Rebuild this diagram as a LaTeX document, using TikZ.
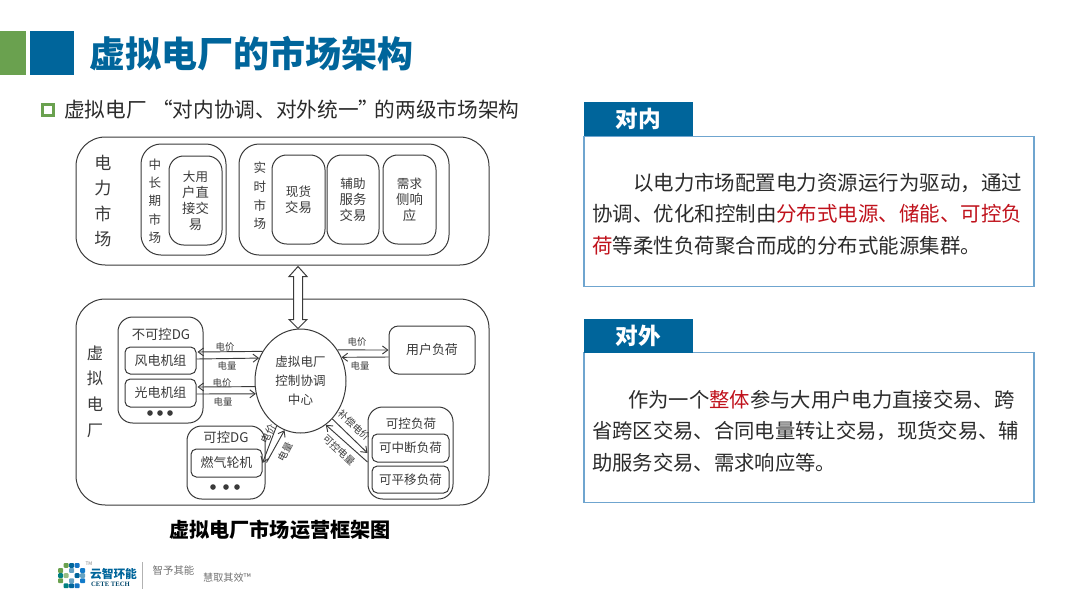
\documentclass[tikz,border=0pt]{standalone}
\usepackage{fontspec}
\setmainfont{Noto Sans CJK SC}
\newfontfamily\logoserif{Liberation Serif}
\usetikzlibrary{arrows.meta,calc,shapes.geometric}
\definecolor{cetblue}{HTML}{00659B}
\definecolor{cetgreen}{HTML}{6AA14F}
\definecolor{panelline}{HTML}{6FA5CF}
\definecolor{hotred}{HTML}{C0121C}
\definecolor{ink}{HTML}{2B2B2B}
\definecolor{diag}{HTML}{3A3A3A}
\newcommand{\fpt}[2]{\fontsize{#1}{#2}\selectfont}
\newcommand{\hot}[1]{\textcolor{hotred}{#1}}
% \bx[style]{name}{x1}{y1}{x2}{y2}{text}
\newcommand{\bx}[7][]{\node[rbox,#1,minimum width={(#5-#3)*0.75pt},minimum height={(#6-#4)*0.75pt}] (#2) at ({(#3+#5)/2},{(#4+#6)/2}) {#7};}
\tikzset{
  rbox/.style={draw=diag,line width=0.75pt,rounded corners=11pt,inner sep=0pt,align=center,text=diag},
  lbl/.style={inner sep=0pt,align=center,text=diag},
  flow/.style={draw=diag,line width=0.7pt,-{Straight Barb[length=4pt,width=6pt]}},
  small/.style={lbl,font=\fpt{7}{8}},
  slant/.style={lbl,font=\fpt{7.4}{9}},
  head/.style={fill=cetblue,text=white,font=\fpt{17}{20}\bfseries,inner sep=0pt,minimum width=81.75pt,minimum height=25.5pt},
  panel/.style={draw=panelline,line width=0.8pt,inner sep=0pt,minimum width=337.5pt,minimum height=112.5pt},
  ptext/.style={inner sep=0pt,align=left,anchor=west,text=ink,font=\fpt{15.25}{23.5}},
  blob/.style={circle,fill=diag,inner sep=0pt,minimum size=4.2pt}
}
\begin{document}
\begin{tikzpicture}[x=0.75pt,y=-0.75pt]
\useasboundingbox (0,0) rectangle (1080,608);
\fill[white] (0,0) rectangle (1080,608);
% title band
\node[fill=cetgreen,inner sep=0pt,minimum width=19.5pt,minimum height=33pt] (bandg) at (13,53) {};
\node[fill=cetblue,inner sep=0pt,minimum width=33pt,minimum height=33pt] (bandb) at (52,53) {};
\node[inner sep=0pt,text=cetblue,font=\fpt{27}{30}\bfseries] (title) at (251.5,54) {虚拟电厂的市场架构};
\node[draw=cetgreen,line width=2.2pt,inner sep=0pt,minimum size=8pt] (bullet) at (48,110) {};
\node[inner sep=0pt,anchor=west,text=ink,font=\fpt{15.5}{18}] (sub) at (64,110) {虚拟电厂\hspace{4pt}“对内协调、对外统一”\hspace{-3.5pt}的两级市场架构};
% market block
\bx[rounded corners=22pt]{market}{76}{137}{489}{265}{}
\bx[rounded corners=15pt]{midterm}{141}{144}{226}{255}{}
\bx{bigdirect}{169}{156}{222}{245}{\fpt{9.4}{13.7}大用\\户直\\接交\\易}
\bx[rounded corners=15pt]{realtime}{239}{144}{449}{255}{}
\bx{spot}{272}{155}{325}{244}{\fpt{9.4}{15}现货\\交易}
\bx{aux}{327}{155}{379}{244}{\fpt{9.4}{13.7}辅助\\服务\\交易}
\bx{demand}{383}{155}{436}{244}{\fpt{9.4}{14}需求\\侧响\\应}
\node[lbl,font=\fpt{12.8}{19.2}] (marketlab) at (103,201) {电\\力\\市\\场};
\node[lbl,font=\fpt{9.4}{13.7}] (midlab) at (155,201) {中\\长\\期\\市\\场};
\node[lbl,font=\fpt{9.4}{14}] (rtlab) at (260,196) {实\\时\\市\\场};
% virtual plant block
\bx[rounded corners=22pt]{vpp}{76}{299}{489}{505}{}
\node[lbl,font=\fpt{12.2}{19.2}] (vpplab) at (95,391.5) {虚\\拟\\电\\厂};
\bx{undg}{118}{317}{203}{423}{}
\node[lbl,font=\fpt{10}{12}] (undglab) at (161,334) {不可控DG};
\bx[rounded corners=4pt]{wind}{125}{347}{196}{374}{\fpt{9.7}{12}风电机组}
\bx[rounded corners=4pt]{solar}{125}{379}{196}{407}{\fpt{9.7}{12}光电机组}
\foreach \i/\x in {1/150,2/160,3/170}{\node[blob] (ud\i) at (\x,413) {};}
\bx{ctdg}{187}{426}{265}{499}{}
\node[lbl,font=\fpt{10}{12}] (ctdglab) at (226,437) {可控DG};
\bx[rounded corners=4pt]{gas}{191}{449}{262}{477}{\fpt{9.7}{12}燃气轮机}
\foreach \i/\x in {1/213,2/226,3/237}{\node[blob] (cd\i) at (\x,487) {};}
\node[ellipse,draw=diag,line width=0.75pt,inner sep=0pt,minimum width=68.25pt,minimum height=78pt,text=diag,align=center,font=\fpt{9.4}{14.2}] (vppc) at (300.5,381) {虚拟电厂\\控制协调\\中心};
\bx[rounded corners=7pt]{user}{389}{326}{475}{374}{\fpt{9.7}{12}用户负荷}
\bx{flex}{368}{407}{453}{499}{}
\node[lbl,font=\fpt{9.4}{12}] (flexlab) at (411,424) {可控负荷};
\bx[rounded corners=4pt]{inter}{372}{434}{449}{462}{\fpt{9.4}{12}可中断负荷}
\bx[rounded corners=4pt]{shift}{372}{466}{449}{493}{\fpt{9.4}{12}可平移负荷}
% big double arrow between the blocks
\coordinate (dau) at (market.south -| vppc.north);
\coordinate (dad) at (vppc.north);
\draw[draw=diag,line width=0.75pt,fill=white]
  ($(dau)+(-2.5,1)$) -- ($(dau)+(6.5,11)$) -- ($(dau)+(2,11)$) -- ($(dad)+(2,-9)$) -- ($(dad)+(6.5,-9)$)
  -- ($(dad)+(-2.5,0)$) -- ($(dad)+(-11.5,-9)$) -- ($(dad)+(-7,-9)$) -- ($(dau)+(-7,11)$) -- ($(dau)+(-11.5,11)$) -- cycle;
% flows
\draw[flow] (vppc.142.5) -- ($(wind.east)+(1,-8.5)$);
\draw[flow] ($(wind.east)+(0,-1.5)$) -- (vppc.151.9);
\draw[flow] (vppc.187.6) -- ($(solar.east)+(1,-6)$);
\draw[flow] ($(solar.east)+(0,1)$) -- (vppc.196.5);
\draw[flow] (vppc.40.3) -- (user.west);
\draw[flow] ($(user.west)+(0,7)$) -- (vppc.30.7);
\draw[flow] (vppc.242.2) -- (gas.east);
\draw[flow] ($(ctdg.east)+(1,0)$) -- (vppc.252.6);
\draw[flow] (vppc.310) -- (flex.west);
\draw[flow] ($(flex.west)+(0,9)$) -- (vppc.300.7);
\node[small] (l1) at (225,347) {电价};
\node[small] (l2) at (227,366) {电量};
\node[small] (l3) at (222,383) {电价};
\node[small] (l4) at (223,402) {电量};
\node[small] (l5) at (357,342) {电价};
\node[small] (l6) at (360,366) {电量};
\node[slant,rotate=62] (l7) at (268,434) {电价};
\node[slant,rotate=62] (l8) at (285,452) {电量};
\node[slant,rotate=-43] (l9) at (354,425.5) {补偿电价};
\node[slant,rotate=-43] (l10) at (339,450) {可控电量};
\node[inner sep=0pt,text=black,font=\fpt{15.1}{18}\bfseries] (caption) at (280,530) {虚拟电厂市场运营框架图};
% right panels
\node[panel] (pin) at (809,211.5) {};
\node[head] (hin) at (638.5,119) {对内};
\node[ptext,font=\fpt{15.35}{23.5}] (tin) at (592,214) {\hspace*{30.6pt}以电力市场配置电力资源运行为驱动，通过\\协调、优化和控制由\hot{分布式电源、储能、可控负}\\\hot{荷}等柔性负荷聚合而成的分布式能源集群。};
\node[panel,minimum height=113pt] (pout) at (809,427.5) {};
\node[head] (hout) at (638.5,335.5) {对外};
\node[ptext] (tout) at (592,431) {\hspace*{27pt}作为一个\hot{整体}参与大用户电力直接交易、跨\\省跨区交易、合同电量转让交易，现货交易、辅\\助服务交易、需求响应等。};
% logo
\foreach \c/\r/\k in {1/0/cetgreen,2/0/cetblue,3/0/cyan!55!blue,
  0/1/cetgreen,1/1/white,2/1/cetblue!60,3/1/white,4/1/cyan!60!blue,
  0/2/teal,1/2/cetgreen!70,2/2/white,3/2/cetblue,4/2/cetblue!60,
  0/3/cetgreen,1/3/white,2/3/cetblue!60,3/3/white,4/3/cyan!60!blue,
  1/4/teal,2/4/cetblue,3/4/cyan!55!blue}{
  \fill[\k,rounded corners=0.8pt] ({58+\c*5.5},{563+\r*5.1}) rectangle ++(5.2,4.8);
}
\node[inner sep=0pt,text=gray,font=\fpt{3.6}{4}] (tm1) at (89,564) {TM};
\node[inner sep=0pt,text=cetblue,font=\fpt{8.8}{11}\bfseries] (logoa) at (113.5,574) {云智环能};
\node[inner sep=0pt,text=cetblue!70!black,font=\logoserif\fpt{5}{6}\bfseries] (logob) at (110.5,584) {CETE TECH};
\draw[gray!60,line width=0.5pt] (142,562) -- (142,589);
\node[inner sep=0pt,text=gray!90!black,font=\fpt{7.8}{9}] (logoc) at (173.5,571) {智予其能};
\node[inner sep=0pt,text=gray!90!black,font=\fpt{7.6}{9}] (logod) at (227,578) {慧取其效™};
\end{tikzpicture}
\end{document}
